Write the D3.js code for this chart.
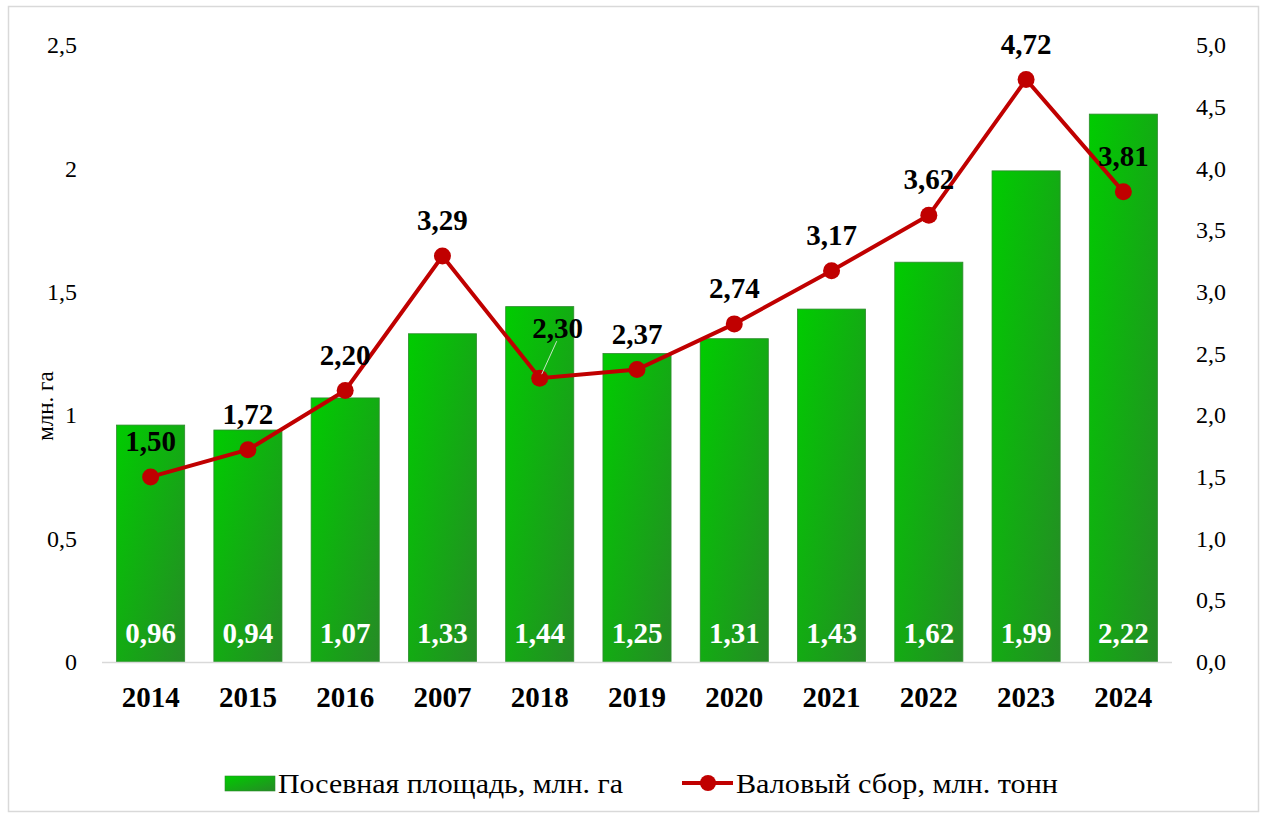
<!DOCTYPE html>
<html>
<head>
<meta charset="utf-8">
<script src="https://cdn.jsdelivr.net/npm/d3@7"></script>
<style>
  body { margin: 0; background: #fff; }
  text { font-family: "Liberation Serif", "Times New Roman", serif; }
</style>
</head>
<body>
<svg id="vis"></svg>
<script>
(function() {
  // data
  var years = ["2014", "2015", "2016", "2007", "2018", "2019", "2020", "2021", "2022", "2023", "2024"];
  var area = [0.96, 0.94, 1.07, 1.33, 1.44, 1.25, 1.31, 1.43, 1.62, 1.99, 2.22];
  var harvest = [1.50, 1.72, 2.20, 3.29, 2.30, 2.37, 2.74, 3.17, 3.62, 4.72, 3.81];
  var leftTicks = [0, 0.5, 1, 1.5, 2, 2.5];
  var rightTicks = [0, 0.5, 1, 1.5, 2, 2.5, 3, 3.5, 4, 4.5, 5];
  var barName = "Посевная площадь, млн. га";
  var lineName = "Валовый сбор, млн. тонн";

  var width = 1266, height = 817;
  var left = 102, right = 1172, top = 45, bottom = 662;

  var chart = d3.select("#vis")
    .attr("width", width)
    .attr("height", height);

  //frame
  chart.append("rect")
    .attr("x", 8.5).attr("y", 6.5)
    .attr("width", 1250).attr("height", 805)
    .attr("fill", "#fff")
    .attr("stroke", "#d9d9d9")
    .attr("stroke-width", 1.5);

  var defs = chart.append("defs");
  var grad = defs.append("linearGradient")
    .attr("id", "barGrad")
    .attr("x1", "0").attr("y1", "0")
    .attr("x2", "1").attr("y2", "1");
  grad.append("stop").attr("offset", "0%").attr("stop-color", "#00cc00");
  grad.append("stop").attr("offset", "100%").attr("stop-color", "#268a26");

  var x = d3.scaleBand()
    .domain(years)
    .range([left, right])
    .paddingInner(0.3)
    .paddingOuter(0.15);

  var yL = d3.scaleLinear().domain([0, 2.5]).range([bottom, top]);
  var yR = d3.scaleLinear().domain([0, 5]).range([bottom, top]);

  var comma = function(f) {
    return function(d) { return f(d).replace(".", ","); };
  };

  //left axis
  var axL = chart.append("g")
    .attr("transform", "translate(" + (left - 20) + ",0)")
    .call(d3.axisLeft(yL).tickValues(leftTicks).tickSize(0).tickPadding(5)
      .tickFormat(comma(String)));
  axL.select(".domain").remove();
  axL.selectAll("text")
    .attr("font-family", "Liberation Serif")
    .attr("font-size", 24)
    .attr("fill", "#000");

  //right axis
  var axR = chart.append("g")
    .attr("transform", "translate(" + (right + 20) + ",0)")
    .call(d3.axisRight(yR).tickValues(rightTicks).tickSize(0).tickPadding(4)
      .tickFormat(comma(d3.format(".1f"))));
  axR.select(".domain").remove();
  axR.selectAll("text")
    .attr("font-family", "Liberation Serif")
    .attr("font-size", 24)
    .attr("fill", "#000");

  //y title
  chart.append("text")
    .attr("transform", "translate(53,406) rotate(-90)")
    .attr("text-anchor", "middle")
    .attr("font-size", 23)
    .text("млн. га");

  //bars
  chart.append("g").selectAll("rect")
    .data(area)
    .enter()
    .append("rect")
    .attr("x", function(d, i) { return x(years[i]); })
    .attr("y", function(d) { return yL(d); })
    .attr("width", x.bandwidth())
    .attr("height", function(d) { return bottom - yL(d); })
    .attr("fill", "url(#barGrad)")
    .attr("stroke", "#2e8b2e")
    .attr("stroke-width", 0.8);

  //baseline
  chart.append("line")
    .attr("x1", left).attr("x2", right)
    .attr("y1", bottom + 0.5).attr("y2", bottom + 0.5)
    .attr("stroke", "#d9d9d9")
    .attr("stroke-width", 1.5);

  //bar labels
  chart.append("g").selectAll("text")
    .data(area)
    .enter()
    .append("text")
    .attr("x", function(d, i) { return x(years[i]) + x.bandwidth() / 2; })
    .attr("y", bottom - 19)
    .attr("text-anchor", "middle")
    .attr("font-size", 29)
    .attr("font-weight", "bold")
    .attr("fill", "#fff")
    .text(comma(d3.format(".2f")));

  //x labels
  chart.append("g").selectAll("text")
    .data(years)
    .enter()
    .append("text")
    .attr("x", function(d) { return x(d) + x.bandwidth() / 2; })
    .attr("y", 707)
    .attr("text-anchor", "middle")
    .attr("font-size", 29)
    .attr("font-weight", "bold")
    .text(function(d) { return d; });

  //line
  var cx = function(d, i) { return x(years[i]) + x.bandwidth() / 2; };
  var line = d3.line()
    .x(function(d, i) { return cx(d, i); })
    .y(function(d) { return yR(d); });

  chart.append("path")
    .datum(harvest)
    .attr("d", line)
    .attr("fill", "none")
    .attr("stroke", "#c00000")
    .attr("stroke-width", 4);

  chart.append("g").selectAll("circle")
    .data(harvest)
    .enter()
    .append("circle")
    .attr("cx", cx)
    .attr("cy", function(d) { return yR(d); })
    .attr("r", 8.5)
    .attr("fill", "#c00000");

  //leader for 2,30
  var i30 = 4;
  chart.append("line")
    .attr("x1", cx(0, i30) + 2).attr("y1", yR(harvest[i30]) - 4)
    .attr("x2", cx(0, i30) + 17).attr("y2", yR(harvest[i30]) - 37)
    .attr("stroke", "#c8e6c8")
    .attr("stroke-width", 1);

  //line labels
  chart.append("g").selectAll("text")
    .data(harvest)
    .enter()
    .append("text")
    .attr("x", function(d, i) { return cx(d, i) + (i === i30 ? 18 : 0); })
    .attr("y", function(d, i) { return yR(d) - (i === i30 ? 40 : 26); })
    .attr("text-anchor", "middle")
    .attr("font-size", 29)
    .attr("font-weight", "bold")
    .attr("fill", "#000")
    .text(comma(d3.format(".2f")));

  //legend
  var lg = chart.append("g");
  lg.append("rect")
    .attr("x", 225).attr("y", 776)
    .attr("width", 50).attr("height", 15)
    .attr("fill", "url(#barGrad)")
    .attr("stroke", "#2e8b2e")
    .attr("stroke-width", 0.6);
  lg.append("text")
    .attr("x", 278).attr("y", 793)
    .attr("font-size", 28)
    .attr("textLength", 345)
    .attr("lengthAdjust", "spacingAndGlyphs")
    .text(barName);
  lg.append("line")
    .attr("x1", 682).attr("x2", 733)
    .attr("y1", 783).attr("y2", 783)
    .attr("stroke", "#c00000")
    .attr("stroke-width", 4);
  lg.append("circle")
    .attr("cx", 708).attr("cy", 783)
    .attr("r", 8)
    .attr("fill", "#c00000");
  lg.append("text")
    .attr("x", 736).attr("y", 793)
    .attr("font-size", 28)
    .attr("textLength", 322)
    .attr("lengthAdjust", "spacingAndGlyphs")
    .text(lineName);

}());
</script>
</body>
</html>
